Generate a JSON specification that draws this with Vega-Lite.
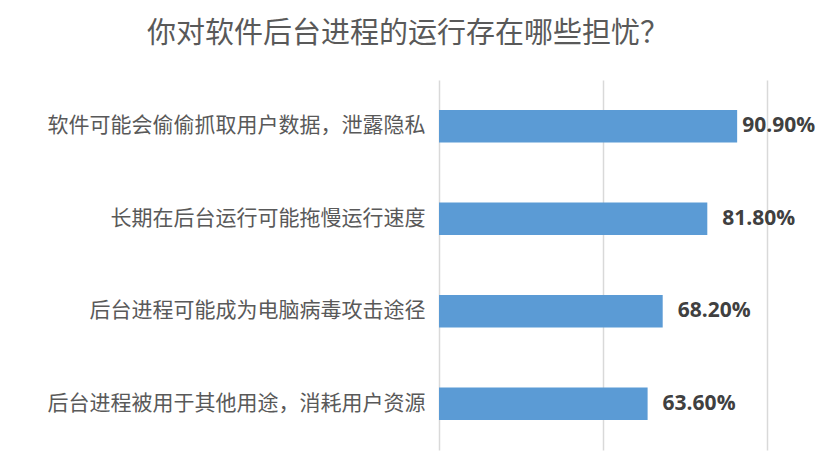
{
  "$schema": "https://vega.github.io/schema/vega-lite/v6.json",
  "width": 328,
  "height": 370,
  "autosize": "none",
  "padding": {"left": 439, "top": 80, "right": 62, "bottom": 25},
  "background": "white",
  "title": {
    "text": "你对软件后台进程的运行存在哪些担忧？",
    "font": "Noto Sans CJK SC",
    "fontSize": 29,
    "fontWeight": "normal",
    "color": "#595959",
    "anchor": "middle",
    "dx": -195,
    "offset": 31
  },
  "data": {
    "values": [
      {"concern": "软件可能会偷偷抓取用户数据，泄露隐私", "share": 0.909},
      {"concern": "长期在后台运行可能拖慢运行速度", "share": 0.818},
      {"concern": "后台进程可能成为电脑病毒攻击途径", "share": 0.682},
      {"concern": "后台进程被用于其他用途，消耗用户资源", "share": 0.636}
    ]
  },
  "encoding": {
    "y": {
      "field": "concern",
      "type": "nominal",
      "sort": null,
      "title": null,
      "scale": {"paddingInner": 0.65, "paddingOuter": 0.325},
      "axis": {
        "domain": false,
        "ticks": false,
        "labelPadding": 14,
        "labelLimit": 500,
        "labelFont": "Noto Sans CJK SC",
        "labelFontSize": 21,
        "labelColor": "#595959"
      }
    },
    "x": {
      "field": "share",
      "type": "quantitative",
      "title": null,
      "scale": {"domain": [0, 1], "nice": false},
      "axis": {
        "values": [0, 0.5, 1],
        "grid": true,
        "gridColor": "#d9d9d9",
        "gridWidth": 1.5,
        "labels": false,
        "ticks": false,
        "domain": false
      }
    }
  },
  "layer": [
    {
      "mark": {"type": "bar", "color": "#5b9bd5"}
    },
    {
      "transform": [{"filter": "datum.share > 0.9"}],
      "mark": {
        "type": "text",
        "align": "left",
        "baseline": "middle",
        "dx": 5,
        "font": "Open Sans",
        "fontSize": 21,
        "fontWeight": "bold",
        "color": "#404040"
      },
      "encoding": {
        "text": {"field": "share", "type": "quantitative", "format": ".2%"}
      }
    },
    {
      "transform": [{"filter": "datum.share <= 0.9"}],
      "mark": {
        "type": "text",
        "align": "left",
        "baseline": "middle",
        "dx": 15,
        "font": "Open Sans",
        "fontSize": 21,
        "fontWeight": "bold",
        "color": "#404040"
      },
      "encoding": {
        "text": {"field": "share", "type": "quantitative", "format": ".2%"}
      }
    }
  ],
  "config": {
    "view": {"stroke": null}
  }
}
